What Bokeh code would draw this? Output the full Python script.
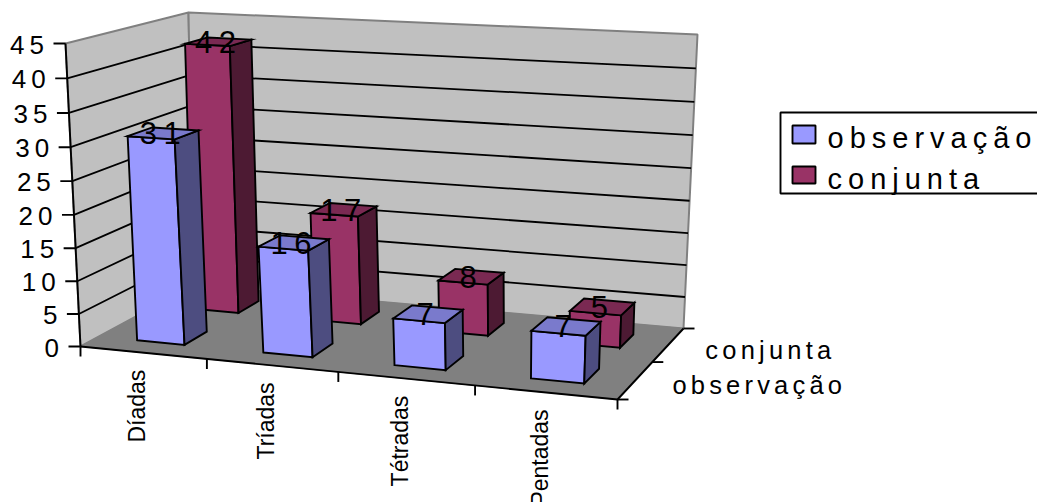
import numpy as np
from bokeh.plotting import figure, curdoc
from bokeh.models import CustomJS
from bokeh.core.properties import value
from bokeh.embed import file_html
from bokeh.resources import INLINE

categories = ["Díadas", "Tríadas", "Tétradas", "Pentadas"]
series_names = ["observação", "conjunta"]
observacao = [31, 16, 7, 7]
conjunta = [42, 17, 8, 5]
y_ticks = [0, 5, 10, 15, 20, 25, 30, 35, 40, 45]
y_max = 45

FONT = value("Liberation Sans")
OBS = {"front": "#9999FF", "top": "#7A7ACC", "side": "#4D4D80"}
CON = {"front": "#993366", "top": "#7A2952", "side": "#4D1A33"}

# text size (px) -> letter spacing (px)
SIZE_LABEL, TRACK_LABEL = 31, 6.5
SIZE_AXIS, TRACK_AXIS = 26, 5
SIZE_SERIES, TRACK_SERIES = 25.5, 4.2
SIZE_LEGEND, TRACK_LEGEND = 29, 6

# projection of the 3-D box (category, series, value) onto the picture
floor_px = [(80, 346), (193, 285), (683, 328), (617, 399)]   # FL, BL, BR, FR
top_px = [(65, 43), (188, 12), (697, 34), (632, 74)]


def homography(quad):
    src = [(0, 0), (0, 1), (1, 1), (1, 0)]
    A, b = [], []
    for (s, t), (x, y) in zip(src, quad):
        A.append([s, t, 1, 0, 0, 0, -s * x, -t * x]); b.append(x)
        A.append([0, 0, 0, s, t, 1, -s * y, -t * y]); b.append(y)
    h = np.linalg.solve(np.array(A, float), np.array(b, float))
    return np.append(h, 1).reshape(3, 3)


H0, H1 = homography(floor_px), homography(top_px)


def project(cat, ser, val):
    s, t = cat / len(categories), ser / len(series_names)
    out = []
    for H in (H0, H1):
        q = H @ np.array([s, t, 1.0])
        out.append(q[:2] / q[2])
    w = val / y_max
    w = w - 0.04 * w * (1 - w)     # foreshortening of the height
    return tuple(out[0] * (1 - w) + out[1] * w)


def face(points):
    xs, ys = zip(*[project(*pt) for pt in points])
    return list(xs), list(ys)


p = figure(width=1037, height=502, x_range=(0, 1037), y_range=(502, 0),
           output_backend="svg", toolbar_location=None, min_border=0,
           outline_line_color=None, background_fill_color="white",
           border_fill_color="white")
p.axis.visible = False
p.grid.visible = False

n_c, n_s = len(categories), len(series_names)

# walls and floor
wall_l = face([(0, 0, 0), (0, 0, y_max), (0, n_s, y_max), (0, n_s, 0)])
wall_b = face([(0, n_s, 0), (0, n_s, y_max), (n_c, n_s, y_max), (n_c, n_s, 0)])
flr = face([(0, 0, 0), (0, n_s, 0), (n_c, n_s, 0), (n_c, 0, 0)])
p.patches([wall_l[0], wall_b[0]], [wall_l[1], wall_b[1]], fill_color="#C0C0C0",
          line_color="#808080", line_width=2)
p.patch(flr[0], flr[1], fill_color="#808080", line_color="#808080", line_width=1)

# grid lines, ticks, axis edges
for t in y_ticks[1:-1]:
    g = face([(0, 0, t), (0, n_s, t), (n_c, n_s, t)])
    p.line(g[0], g[1], line_color="black", line_width=1.8)

seg_x, seg_y = [], []
for t in y_ticks:
    x0, y0 = project(0, 0, t)
    seg_x.append([x0 - 12, x0]); seg_y.append([y0, y0])
e = face([(0, 0, 0), (0, 0, y_max)])
seg_x.append(e[0]); seg_y.append(e[1])
e = face([(0, 0, 0), (n_c, 0, 0), (n_c, n_s, 0)])
seg_x.append(e[0]); seg_y.append(e[1])
for c in range(1, n_c + 1):
    x0, y0 = project(c, 0, 0)
    seg_x.append([x0, x0]); seg_y.append([y0, y0 + 10])
x0, y0 = project(0, 0, 0)
seg_x.append([x0, x0]); seg_y.append([y0, y0 + 10])
for s in range(0, n_s + 1):
    x0, y0 = project(n_c, s, 0)
    seg_x.append([x0, x0 + 11]); seg_y.append([y0, y0])
p.multi_line(seg_x, seg_y, line_color="black", line_width=1.9)

# bars
U0, U1 = 0.31, 0.69
V0, V1 = 0.30, 0.70


def bar(c, s, v, cols):
    a, b = c + U0, c + U1
    d, f = s + V0, s + V1
    front = face([(a, d, 0), (b, d, 0), (b, d, v), (a, d, v)])
    side = face([(b, d, 0), (b, f, 0), (b, f, v), (b, d, v)])
    top = face([(a, d, v), (b, d, v), (b, f, v), (a, f, v)])
    p.patches([front[0], side[0], top[0]], [front[1], side[1], top[1]],
              fill_color=[cols["front"], cols["side"], cols["top"]],
              line_color="black", line_width=1.9, line_join="miter")


for c, v in enumerate(conjunta):
    bar(c, 1, v, CON)
for c, v in enumerate(observacao):
    bar(c, 0, v, OBS)

# data labels (Bokeh centres on the untracked width, so correct for tracking)
lx, ly, lt = [], [], []
for s, vals in enumerate((observacao, conjunta)):
    for c, v in enumerate(vals):
        x0, y0 = project(c + 0.5, s + 0.5, v)
        txt = str(v)
        lx.append(x0 - 3 - TRACK_LABEL * (len(txt) - 1) / 2)
        ly.append(y0)
        lt.append(txt)
p.text(lx, ly, text=lt, text_font=FONT, text_font_size=f"{SIZE_LABEL}px",
       text_align="center", text_baseline="middle", text_color="black")

# value axis labels
labels = [str(t) for t in y_ticks]
tx = [project(0, 0, t)[0] - 21.5 - TRACK_AXIS * (len(l) - 1) for t, l in zip(y_ticks, labels)]
ty = [project(0, 0, t)[1] + 1 for t in y_ticks]
p.text(tx, ty, text=labels, text_font=FONT,
       text_font_size=f"{SIZE_AXIS}px", text_align="right", text_baseline="middle",
       text_color="black")

# category labels
cx = [project(c + 0.5, 0, 0)[0] - 6 for c in range(n_c)]
cy = [project(c + 0.5, 0, 0)[1] + 17 for c in range(n_c)]
p.text(cx, cy, text=categories, text_font=FONT, text_font_size="23px",
       angle=np.pi / 2, text_align="right", text_baseline="middle",
       text_color="black")

# series labels
sx = [project(n_c, s + 0.5, 0)[0] + 37 for s in range(n_s)]
sy = [project(n_c, s + 0.5, 0)[1] + 5 for s in range(n_s)]
p.text(sx, sy, text=series_names, text_font=FONT, text_font_size=f"{SIZE_SERIES}px",
       text_align="left", text_baseline="middle", text_color="black")

# legend
leg_x = [780, 1040, 1040, 780]
leg_y = [112, 112, 193, 193]
p.patch(leg_x, leg_y, fill_color="white", line_color="black", line_width=1.9)
p.quad(left=[792, 792], right=[815, 815], top=[125, 166], bottom=[143, 183],
       fill_color=[OBS["front"], CON["front"]], line_color="black", line_width=1.9)
p.text([827, 827], [137, 178], text=series_names, text_font=FONT,
       text_font_size=f"{SIZE_LEGEND}px", text_align="left", text_baseline="middle",
       text_color="black")

# tracked lettering, as in the original chart; category labels stay untracked
track_by_size = {f"{SIZE_LABEL}px": TRACK_LABEL, f"{SIZE_AXIS}px": TRACK_AXIS,
                 f"{SIZE_SERIES}px": TRACK_SERIES, f"{SIZE_LEGEND}px": TRACK_LEGEND}
track = CustomJS(args=dict(track=track_by_size), code="""
function walk(root, out) {
  root.querySelectorAll('*').forEach(el => {
    if (el.tagName === 'text') out.push(el);
    if (el.shadowRoot) walk(el.shadowRoot, out);
  });
  return out;
}
function apply() {
  walk(document, []).forEach(el => {
    const s = track[getComputedStyle(el).fontSize];
    if (s !== undefined) el.style.letterSpacing = s + 'px';
  });
}
apply(); setTimeout(apply, 50); setTimeout(apply, 300);
""")
curdoc().add_root(p)
curdoc().js_on_event("document_ready", track)

open("out.html", "w").write(file_html(p, INLINE))
